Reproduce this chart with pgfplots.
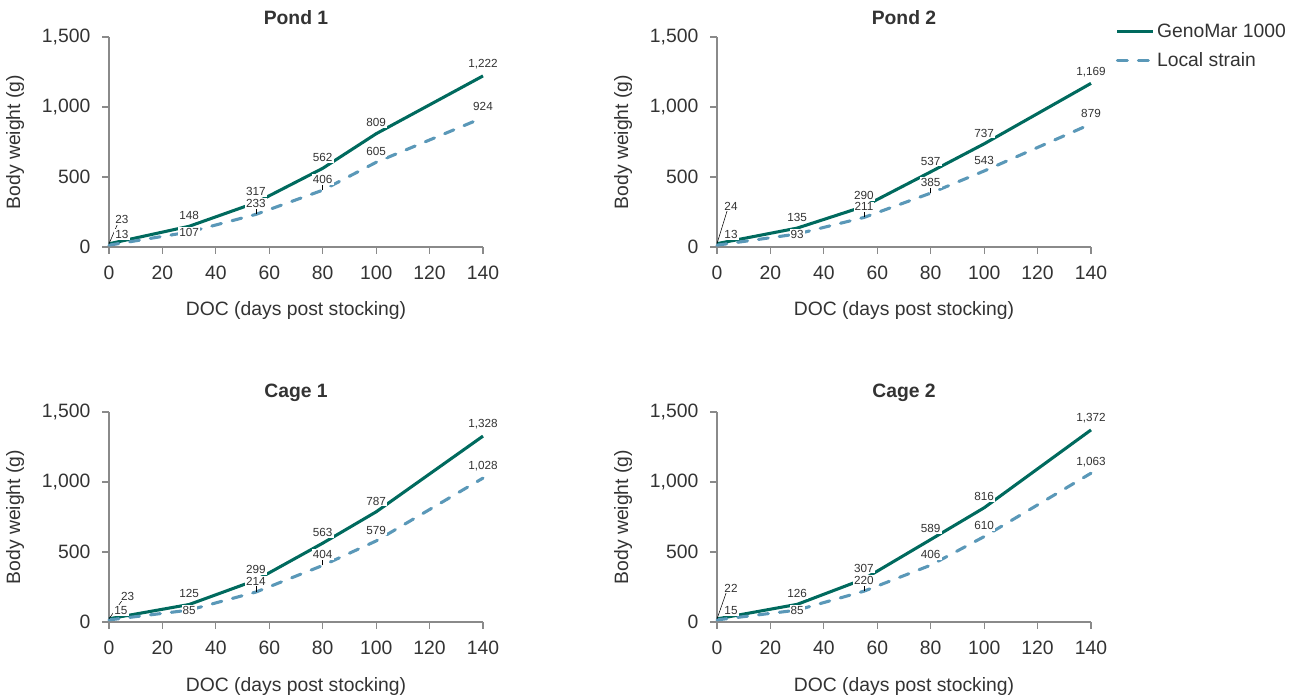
\documentclass[border=0pt]{standalone}
\usepackage{pgfplots}
\pgfplotsset{compat=1.18}
\usepackage{pgfplotstable}
\usepackage{fontspec}
\setmainfont{Liberation Sans}
\definecolor{geno}{HTML}{006A5E}
\definecolor{local}{HTML}{5A98B8}
\definecolor{axgray}{HTML}{8A8A8A}
\definecolor{txt}{HTML}{333333}

% x, GenoMar, Local
\pgfplotstableread{
x g l
0 23 13
30 148 107
55 317 233
80 562 406
100 809 605
140 1222 924
}\pondA
\pgfplotstableread{
x g l
0 24 13
30 135 93
55 290 211
80 537 385
100 737 543
140 1169 879
}\pondB
\pgfplotstableread{
x g l
0 23 15
30 125 85
55 299 214
80 563 404
100 787 579
140 1328 1028
}\cageA
\pgfplotstableread{
x g l
0 22 15
30 126 85
55 307 220
80 589 406
100 816 610
140 1372 1063
}\cageB

\newcommand{\tickfont}{\fontsize{14.5}{16}\selectfont}
\newcommand{\datafont}{\fontsize{8.8}{10}\selectfont}

\tikzset{leader/.style={black, line width=0.4pt}}

\pgfplotsset{
  panel/.style={
    scale only axis, width=280.5pt, height=157.5pt,
    xmin=0, xmax=140, ymin=0, ymax=1500,
    xtick={0,20,...,140}, ytick={0,500,1000,1500},
    axis lines=left, axis line style={-, draw=axgray, line width=0.8pt},
    tick style={draw=axgray, line width=0.8pt}, tick align=outside,
    major tick length=5pt,
    ticklabel style={font=\tickfont, text=txt},
    xticklabel style={yshift=-5.5pt},
    yticklabel style={xshift=-5.5pt},
    /pgf/number format/assume math mode=true,
    /pgf/number format/1000 sep={,},
    scaled y ticks=false,
    xlabel={DOC (days post stocking)}, ylabel={Body weight (g)},
    xlabel style={font=\tickfont, text=txt, at={(axis description cs:0.5,-0.30)}, anchor=center},
    ylabel style={font=\tickfont, text=txt, at={(axis description cs:-0.2513,0.5)}, anchor=center},
    title style={font=\tickfont\bfseries, text=txt, at={(axis description cs:0.5,1.0905)}, anchor=center, yshift=-6pt},
    clip=false,
  },
  gline/.style={geno, line width=2.3pt, mark=none},
  lline/.style={local, line width=2.3pt, mark=none, line cap=round, dash pattern=on 7.4pt off 8.3pt},
  lab/.style={draw=none, mark=none, forget plot, nodes near coords, point meta=explicit symbolic,
    nodes near coords style={font=\datafont, text=txt, fill=white, inner sep=0.8pt, #1}},
}

\begin{document}
\begin{tikzpicture}
\path[use as bounding box] (0,0) rectangle (975.75pt,-524.25pt);

% ---------- Pond 1
\begin{axis}[panel, at={(81.75pt,-185.25pt)}, anchor=south west, title={Pond 1}]
\addplot[gline] table[x=x,y=g] {\pondA};
\addplot[lline] table[x=x,y=l] {\pondA};
\draw[leader] (axis cs:0,23) -- ++(6.5pt,15pt);
\draw[leader] (axis cs:55,233) -- ++(0,4.5pt);
\draw[leader] (axis cs:80,406) -- ++(0,4.5pt);
\addplot[lab={anchor=center, xshift=9.75pt, yshift=18pt}] coordinates {(0,23)[23]};
\addplot[lab={anchor=center, xshift=9.75pt, yshift=8pt}] coordinates {(0,13)[13]};
\addplot[lab={anchor=south, yshift=4pt}] coordinates {(30,148)[148] (55,317)[317] (80,562)[562] (100,809)[809] (140,1222)[{1,222}]};
\addplot[lab={anchor=center}] coordinates {(30,107)[107]};
\addplot[lab={anchor=south, yshift=4pt}] coordinates {(55,233)[233] (80,406)[406] (100,605)[605] (140,924)[924]};
\end{axis}

% ---------- Pond 2
\begin{axis}[panel, at={(537.75pt,-185.25pt)}, anchor=south west, title={Pond 2},
  legend style={at={(axis description cs:1.066,1.078)}, anchor=north west, draw=none, fill=none,
    font=\tickfont, text=txt, row sep=6pt, inner sep=0pt},
  legend cell align=left,
  legend image code/.code={\draw[#1] (1pt,0pt) -- (27.5pt,0pt);}]
\addplot[gline] table[x=x,y=g] {\pondB};
\addlegendentry{GenoMar 1000}
\addplot[lline] table[x=x,y=l] {\pondB};
\addlegendentry{Local strain}
\draw[leader] (axis cs:0,24) -- ++(8pt,26pt);
\draw[leader] (axis cs:55,211) -- ++(0,4.5pt);
\draw[leader] (axis cs:80,385) -- ++(0,4.5pt);
\addplot[lab={anchor=center, xshift=10.5pt, yshift=28pt}] coordinates {(0,24)[24]};
\addplot[lab={anchor=center, xshift=10.5pt, yshift=8pt}] coordinates {(0,13)[13]};
\addplot[lab={anchor=south, yshift=4pt}] coordinates {(30,135)[135] (55,290)[290] (80,537)[537] (100,737)[737] (140,1169)[{1,169}]};
\addplot[lab={anchor=center}] coordinates {(30,93)[93]};
\addplot[lab={anchor=south, yshift=4pt}] coordinates {(55,211)[211] (80,385)[385] (100,543)[543] (140,879)[879]};
\end{axis}

% ---------- Cage 1
\begin{axis}[panel, at={(81.75pt,-466.5pt)}, anchor=south west, title={Cage 1}, xlabel style={at={(axis description cs:0.5,-0.305)}}]
\addplot[gline] table[x=x,y=g] {\cageA};
\addplot[lline] table[x=x,y=l] {\cageA};
\draw[leader] (axis cs:0,23) -- ++(10pt,14pt);
\draw[leader] (axis cs:55,214) -- ++(0,4.5pt);
\draw[leader] (axis cs:80,404) -- ++(0,4.5pt);
\addplot[lab={anchor=center, xshift=14pt, yshift=17pt}] coordinates {(0,23)[23]};
\addplot[lab={anchor=center, xshift=9pt, yshift=7pt}] coordinates {(0,15)[15]};
\addplot[lab={anchor=south, yshift=4pt}] coordinates {(30,125)[125] (55,299)[299] (80,563)[563] (100,787)[787] (140,1328)[{1,328}]};
\addplot[lab={anchor=center}] coordinates {(30,85)[85]};
\addplot[lab={anchor=south, yshift=4pt}] coordinates {(55,214)[214] (80,404)[404] (100,579)[579] (140,1028)[{1,028}]};
\end{axis}

% ---------- Cage 2
\begin{axis}[panel, at={(537.75pt,-466.5pt)}, anchor=south west, title={Cage 2}, xlabel style={at={(axis description cs:0.5,-0.305)}}]
\addplot[gline] table[x=x,y=g] {\cageB};
\addplot[lline] table[x=x,y=l] {\cageB};
\draw[leader] (axis cs:0,22) -- ++(7pt,20pt);
\draw[leader] (axis cs:55,220) -- ++(0,4.5pt);
\addplot[lab={anchor=center, xshift=10.5pt, yshift=23pt}] coordinates {(0,22)[22]};
\addplot[lab={anchor=center, xshift=10.5pt, yshift=7pt}] coordinates {(0,15)[15]};
\addplot[lab={anchor=south, yshift=4pt}] coordinates {(30,126)[126] (55,307)[307] (80,589)[589] (100,816)[816] (140,1372)[{1,372}]};
\addplot[lab={anchor=center}] coordinates {(30,85)[85]};
\addplot[lab={anchor=south, yshift=4pt}] coordinates {(55,220)[220] (80,406)[406] (100,610)[610] (140,1063)[{1,063}]};
\end{axis}
\end{tikzpicture}
\end{document}
